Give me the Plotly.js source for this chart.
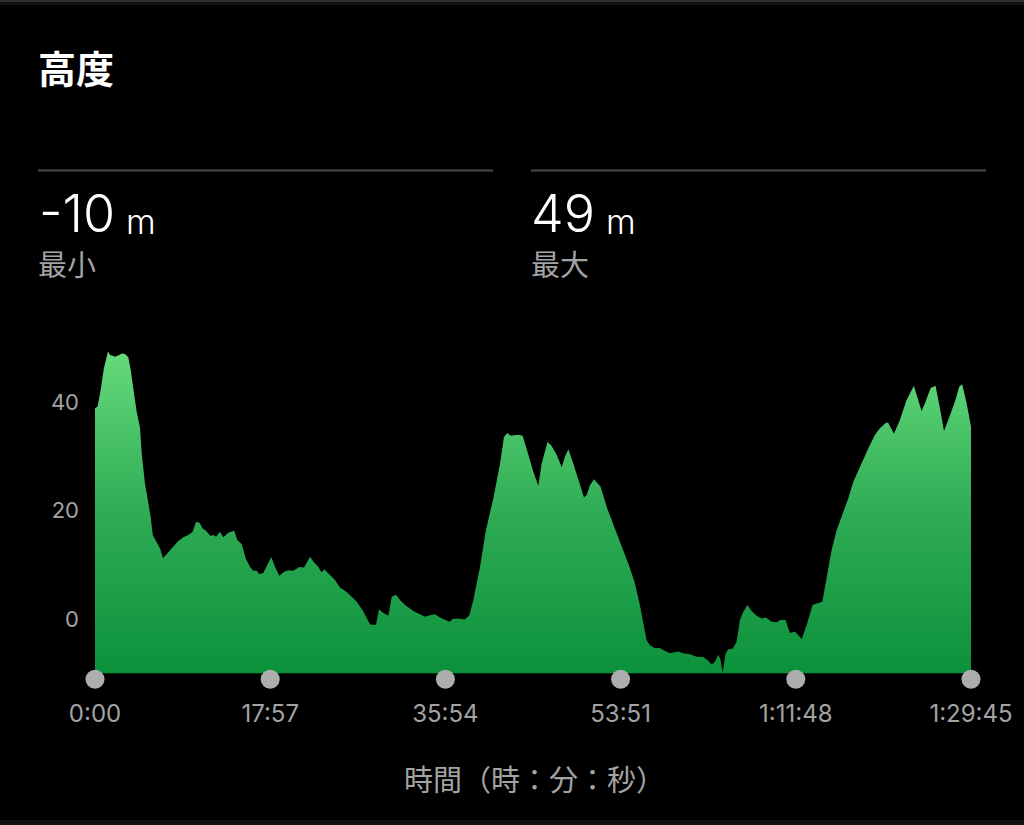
<!DOCTYPE html>
<html>
<head>
<meta charset="utf-8">
<script src="https://cdn.plot.ly/plotly-3.0.1.min.js"></script>
<style>html,body{margin:0;padding:0;background:#000;overflow:hidden}#chart{width:1024px;height:825px}</style>
</head>
<body>
<div id="chart"></div>
<script>
// elapsed time in seconds
const timeSec = [0,16,35,55,80,92,105,123,143,164,184,205,219,236,256,277,287,307,328,342,355,375,400,418,445,481,512,543,574,600,621,641,662,682,711,727,744,768,789,820,855,875,902,926,953,973,994,1010,1035,1059,1084,1107,1133,1162,1188,1219,1256,1285,1322,1342,1373,1393,1408,1445,1475,1506,1547,1578,1609,1650,1691,1727,1746,1768,1803,1824,1850,1875,1906,1957,1998,2029,2059,2090,2121,2178,2199,2233,2274,2301,2326,2367,2403,2449,2490,2514,2535,2555,2602,2629,2664,2694,2725,2746,2782,2807,2838,2869,2889,2910,2940,2971,3006,3022,3043,3067,3108,3149,3207,3268,3285,3319,3350,3391,3411,3442,3469,3504,3534,3586,3616,3657,3698,3739,3770,3791,3811,3832,3846,3858,3877,3893,3920,3944,3965,3985,4010,4036,4067,4098,4124,4159,4190,4211,4245,4272,4303,4344,4375,4411,4436,4471,4497,4528,4559,4590,4631,4661,4702,4754,4795,4825,4862,4876,4911,4948,4989,5034,5081,5102,5137,5167,5194,5219,5245,5286,5313,5331,5358,5379,5385];
// elevation in metres
const elevation = [38.9,39.2,42.3,46.3,49.4,48.7,48.6,48.4,48.6,49,48.9,48.3,46,42.3,38.3,35.2,30.6,25,21.3,18.9,15.5,14.3,13,11.2,12.1,13.5,14.4,15.1,15.5,16.1,17.9,17.8,16.7,16.3,15.3,15.5,15.2,16.1,15.1,15.9,16.3,14.6,13.8,11.2,9.6,8.9,8.9,8.3,8.5,10,11.4,9.6,8,8.7,9,8.9,9.6,9.5,11.5,10.6,9.6,8.6,9.2,8.1,7.2,5.8,5,4.1,3.2,1.4,-1,-1.1,1.8,1.2,0.6,4.1,4.5,3.5,2.6,1.5,0.9,0.4,0.7,0.9,0.3,-0.5,0,0.1,-0.1,0.7,3.5,9.7,16.4,22.3,28.7,33.6,34.3,33.8,34,33.8,30.3,27.2,24.6,28.7,32.7,31.9,30.3,28,30,31.3,28.7,25.6,22.4,22.9,24.7,25.8,24.4,20.4,15.8,10.9,9.7,6.6,2.5,-3.9,-4.8,-5.4,-5.3,-5.9,-6.3,-6,-6.3,-6.5,-6.95,-7,-7.7,-8.4,-7.9,-6.6,-7.6,-9.9,-6.3,-5.6,-5.5,-4.2,-0.2,1.3,2.6,1.5,0.6,0.1,0.3,-0.5,-0.6,-0.2,-0.2,-2.6,-2.3,-3.7,-1.1,2.6,2.8,3.2,7.5,12.7,16.4,18.9,22.3,25.3,28.1,31.5,34,35.2,36.2,36.2,34.2,36.7,40.4,43.05,38.4,39.8,42.6,43.05,38.9,34.7,36.7,40.1,42.9,43.3,39.8,36.1,35.5];
const xTickVals = [0,1077,2154,3231,4308,5385];
const xTickText = ['0:00','17:57','35:54','53:51','1:11:48','1:29:45'];
const yTickVals = [0,20,40];
const minElevation = -10;
const dotLevel = -11.1;

const W = 1024, H = 825;
const M = {l:95, r:53, t:348, b:145};
const PX = p => (p - M.l) / (W - M.l - M.r);
const PY = p => 1 - (p - M.t) / (H - M.t - M.b);
const cjk = "'Noto Sans CJK JP', sans-serif";
const num = "Inter, 'Noto Sans CJK JP', sans-serif";
const grey = '#a3a3a3';

const label = (text, x, y, size, color, family, weight) => ({
  text, xref:'paper', yref:'paper', x:PX(x), y:PY(y), xanchor:'left', yanchor:'middle',
  showarrow:false, align:'left', font:{size, color, family, weight:weight||400}
});

const traces = [
  {x:[timeSec[0], timeSec[timeSec.length-1]], y:[minElevation, minElevation], mode:'lines', line:{width:0}, hoverinfo:'skip', showlegend:false},
  {x:timeSec, y:elevation, mode:'lines', line:{width:0, color:'#3fbf63'}, fill:'tonexty',
   fillgradient:{type:'vertical', colorscale:[[0,'#0c913b'],[0.5,'#2fac55'],[1,'#66db7c']]}, showlegend:false},
  {x:xTickVals, y:xTickVals.map(() => dotLevel), mode:'markers', cliponaxis:false,
   marker:{size:19, color:'#adadad'}, showlegend:false}
];

const layout = {
  width:W, height:H, margin:M, paper_bgcolor:'#000', plot_bgcolor:'#000', showlegend:false,
  title:{text:'高度', x:38/W, xanchor:'left', xref:'container', y:1-70/H, yref:'container', yanchor:'middle',
         font:{size:38, color:'#fff', family:cjk, weight:700}},
  xaxis:{range:[0,5385], tickvals:xTickVals, ticktext:xTickText, showgrid:false, zeroline:false, showline:false,
         ticks:'', ticklabelstandoff:17, tickfont:{size:24, color:grey, family:num}},
  yaxis:{range:[-11.25,50], tickvals:yTickVals, showgrid:false, zeroline:false, showline:false,
         ticks:'', ticklabelstandoff:15, tickfont:{size:22, color:grey, family:num}},
  annotations:[
    label('-10', 37, 214, 52, '#fff', num, 300),
    label('m', 124, 221, 34, '#fff', num, 300),
    label('最小', 36, 263, 29, grey, cjk),
    label('49', 529, 214, 52, '#fff', num, 300),
    label('m', 604, 221, 34, '#fff', num, 300),
    label('最大', 529, 263, 29, grey, cjk),
    label('時間（時：分：秒）', 402, 778, 29, grey, cjk)
  ],
  shapes:[
    {type:'line', xref:'paper', yref:'paper', x0:PX(38), x1:PX(493), y0:PY(170.5), y1:PY(170.5), line:{color:'#4a4a4a', width:2}},
    {type:'line', xref:'paper', yref:'paper', x0:PX(531), x1:PX(986), y0:PY(170.5), y1:PY(170.5), line:{color:'#4a4a4a', width:2}},
    {type:'rect', xref:'paper', yref:'paper', x0:PX(0), x1:PX(W), y0:PY(0), y1:PY(2), line:{width:0}, fillcolor:'#2e2e2e'},
    {type:'rect', xref:'paper', yref:'paper', x0:PX(0), x1:PX(W), y0:PY(2), y1:PY(5), line:{width:0}, fillcolor:'#111'},
    {type:'rect', xref:'paper', yref:'paper', x0:PX(0), x1:PX(W), y0:PY(820), y1:PY(H), line:{width:0}, fillcolor:'#111'}
  ]
};
Plotly.newPlot('chart', traces, layout, {staticPlot:true, displayModeBar:false});
</script>
</body>
</html>
